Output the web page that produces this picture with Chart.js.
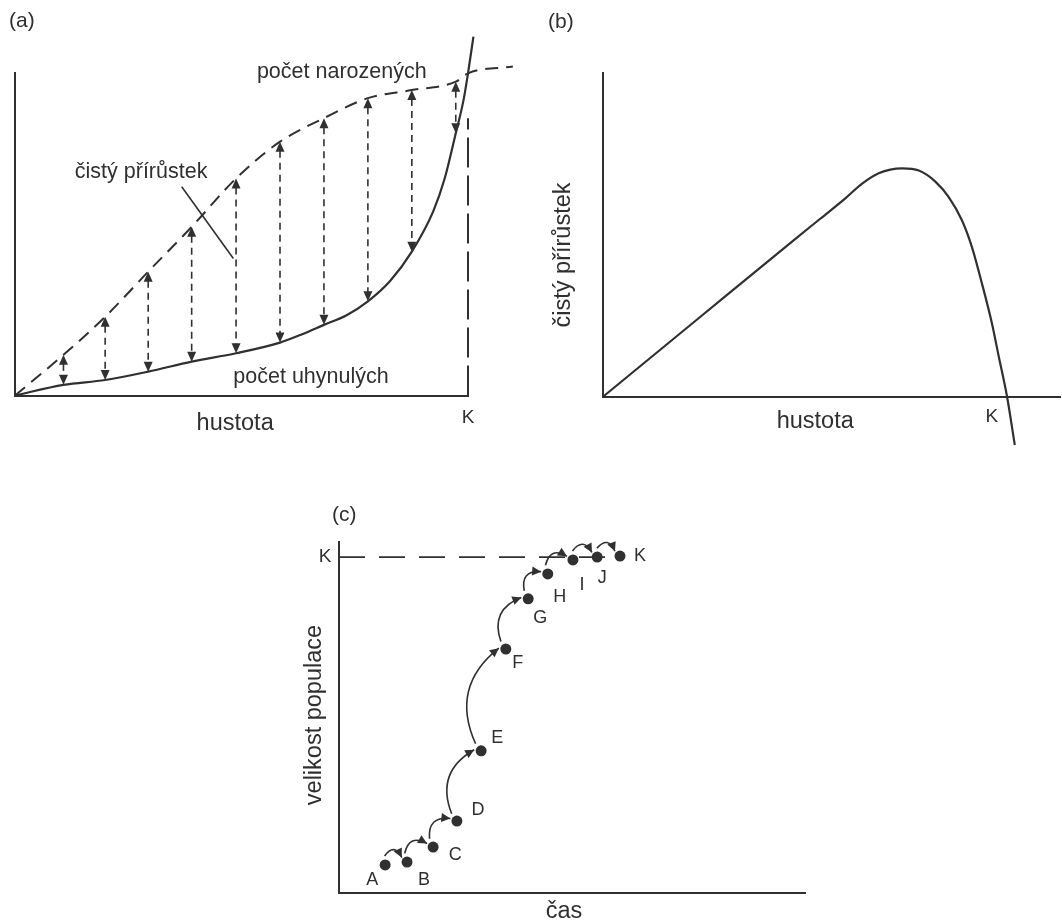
<!DOCTYPE html>
<html lang="cs">
<head>
<meta charset="utf-8">
<title>Hustota populace a čistý přírůstek</title>
<script src="https://cdn.jsdelivr.net/npm/chart.js@4.4.1/dist/chart.umd.min.js"></script>
<style>
  html, body { margin: 0; padding: 0; background: #fff; }
  body { width: 1062px; height: 924px; position: relative; overflow: hidden; }
  canvas { position: absolute; }
  #births { left: 0; top: 0; }
  #net { left: 531px; top: 0; }
  #growth { left: 280px; top: 490px; }
</style>
</head>
<body>
<canvas id="births" width="531" height="445"></canvas>
<canvas id="net" width="531" height="460"></canvas>
<canvas id="growth" width="560" height="434"></canvas>
<script>
// (a) births and deaths against density, K sits at 100
const K = 100;
const birthDensity = [0, 10.7, 19.9, 29.4, 39.0, 48.8, 58.5, 68.2, 77.9, 87.6, 97.3, 100, 109.9];
const births = [0, 12.6, 24.4, 38.4, 52.3, 67.3, 78.7, 86.0, 92.2, 94.7, 97.3, 99.9, 102.0];
const deathDensity = [0, 10.7, 19.9, 29.4, 39.0, 48.8, 58.5, 63.4, 68.2, 73.1, 77.9, 82.8, 87.6, 92.3, 94.9, 97.3, 99.0, 100, 101.2];
const deaths = [0, 3.3, 4.8, 7.4, 10.5, 13.1, 16.4, 19.0, 21.9, 24.8, 29.2, 35.5, 44.6, 57.0, 67.5, 81.3, 91.5, 99.9, 111.3];
// net increase arrows are drawn at these densities
const arrowDensity = [10.7, 19.9, 29.4, 39.0, 48.8, 58.5, 68.2, 77.9, 87.6, 97.3];
const kLineTop = 86.0;

// (b) net increase against density
const netDensity = [0, 21.2, 42.0, 47.5, 53.0, 56.6, 60.3, 65.4, 69.1, 72.7, 75.6, 78.5, 80.7, 82.9, 85.1, 86.6, 88.4, 90.1];
const netGrowth = [0, 24.6, 48.7, 55.0, 61.3, 65.8, 69.1, 70.6, 69.9, 66.5, 61.8, 54.6, 46.3, 35.0, 22.6, 12.3, 0, -15.0];

// (c) population size over time
const stepLabels = ['A', 'B', 'C', 'D', 'E', 'F', 'G', 'H', 'I', 'J', 'K'];
const time = [9.9, 14.6, 20.2, 25.3, 30.5, 35.8, 40.6, 44.8, 50.2, 55.4, 60.3];
const popSize = [8.0, 8.8, 13.1, 20.5, 40.5, 69.5, 83.8, 90.9, 94.9, 95.7, 96.0];
const capacity = 95.7;

const INK = '#303030';
const FONT = '"Liberation Sans", Arial, sans-serif';
Chart.defaults.font.family = FONT;

// range is fixed after the data limits so curves may run past the axis ends
function axis(min, max) {
    return {
        type: 'linear',
        bounds: 'data',
        afterDataLimits(scale) {
            scale.min = min;
            scale.max = max;
        },
        ticks: { display: false },
        grid: { display: false, drawTicks: false },
        border: { display: true, color: INK, width: 2 }
    };
}

function drawText(ctx, str, px, py, size, align, angle) {
    ctx.save();
    ctx.translate(px, py);
    if (angle) ctx.rotate(angle);
    ctx.font = size + 'px ' + FONT;
    ctx.fillStyle = INK;
    ctx.textAlign = align || 'center';
    ctx.textBaseline = 'middle';
    ctx.fillText(str, 0, 0);
    ctx.restore();
}

// text notes are placed in data units so they follow the scales
function notesPlugin(notes) {
    return {
        id: 'notes',
        afterDraw(chart) {
            const { ctx, scales: { x, y } } = chart;
            notes.forEach(n => {
                drawText(ctx, n.text, x.getPixelForValue(n.x), y.getPixelForValue(n.y),
                    n.size, n.align, n.angle);
            });
        }
    };
}

function arrowHead(ctx, tipX, tipY, dirX, dirY, len, half) {
    const l = Math.hypot(dirX, dirY);
    const ux = dirX / l, uy = dirY / l;
    const bx = tipX - ux * len, by = tipY - uy * len;
    ctx.beginPath();
    ctx.moveTo(tipX, tipY);
    ctx.lineTo(bx - uy * half, by + ux * half);
    ctx.lineTo(bx + uy * half, by - ux * half);
    ctx.closePath();
    ctx.fill();
}

function baseOptions(padding, xMax, yMin, yMax) {
    return {
        responsive: false,
        animation: false,
        events: [],
        layout: { padding: padding },
        elements: { line: { capBezierPoints: false } },
        plugins: { legend: { display: false }, tooltip: { enabled: false } },
        scales: { x: axis(0, xMax), y: axis(yMin, yMax) }
    };
}

// ---- (a)
const netArrows = {
    id: 'netArrows',
    afterDatasetsDraw(chart) {
        const { ctx, scales: { x, y } } = chart;
        ctx.save();
        ctx.strokeStyle = INK;
        ctx.fillStyle = INK;
        ctx.lineWidth = 1.6;
        arrowDensity.forEach(d => {
            const px = x.getPixelForValue(d);
            const top = y.getPixelForValue(births[birthDensity.indexOf(d)]);
            const bottom = y.getPixelForValue(deaths[deathDensity.indexOf(d)]);
            ctx.setLineDash([7, 5]);
            ctx.beginPath();
            ctx.moveTo(px, top + 9);
            ctx.lineTo(px, bottom - 9);
            ctx.stroke();
            ctx.setLineDash([]);
            arrowHead(ctx, px, top, 0, -1, 10, 4.5);
            arrowHead(ctx, px, bottom, 0, 1, 10, 4.5);
        });
        // leader from the label to one of the arrows
        ctx.beginPath();
        ctx.moveTo(x.getPixelForValue(36.8), y.getPixelForValue(64.7));
        ctx.lineTo(x.getPixelForValue(48.2), y.getPixelForValue(42.5));
        ctx.stroke();
        ctx.restore();
    }
};

new Chart(document.getElementById('births'), {
    type: 'line',
    data: {
        datasets: [
            {
                label: 'počet narozených',
                data: birthDensity.map((d, i) => ({ x: d, y: births[i] })),
                borderColor: INK,
                borderWidth: 2,
                borderDash: [13, 8],
                pointRadius: 0,
                cubicInterpolationMode: 'monotone',
                clip: false
            },
            {
                label: 'počet uhynulých',
                data: deathDensity.map((d, i) => ({ x: d, y: deaths[i] })),
                borderColor: INK,
                borderWidth: 2.2,
                pointRadius: 0,
                cubicInterpolationMode: 'monotone',
                clip: false
            },
            {
                label: 'K',
                data: [{ x: K, y: 0 }, { x: K, y: kLineTop }],
                borderColor: INK,
                borderWidth: 2,
                borderDash: [30, 8],
                pointRadius: 0,
                clip: false
            }
        ]
    },
    options: baseOptions({ left: 15, top: 73, right: 63, bottom: 49.5 }, 100, 0, 100),
    plugins: [netArrows, notesPlugin([
        { text: '(a)', x: -1.3, y: 116.1, size: 21, align: 'left' },
        { text: 'počet narozených', x: 53.4, y: 100.4, size: 21.5, align: 'left' },
        { text: 'počet uhynulých', x: 48.2, y: 5.8, size: 21.5, align: 'left' },
        { text: 'čistý přírůstek', x: 13.2, y: 69.4, size: 21.5, align: 'left' },
        { text: 'hustota', x: 48.6, y: -8.6, size: 23.5 },
        { text: 'K', x: 100, y: -7.0, size: 19 }
    ])]
});

// ---- (b)
new Chart(document.getElementById('net'), {
    type: 'line',
    data: {
        datasets: [{
            label: 'čistý přírůstek',
            data: netDensity.map((d, i) => ({ x: d, y: netGrowth[i] })),
            borderColor: INK,
            borderWidth: 2.2,
            pointRadius: 0,
            cubicInterpolationMode: 'monotone',
            clip: false
        }]
    },
    options: baseOptions({ left: 72.3, top: 73.3, right: 2, bottom: 63.5 }, 100, 0, 100),
    plugins: [notesPlugin([
        { text: '(b)', x: -12.1, y: 115.9, size: 21, align: 'left' },
        { text: 'čistý přírůstek', x: -8.8, y: 43.8, size: 23.5, angle: -Math.PI / 2 },
        { text: 'hustota', x: 46.4, y: -7.8, size: 23.5 },
        { text: 'K', x: 85.1, y: -6.3, size: 19 }
    ])]
});

// ---- (c)
// label offsets in pixels from each point
const labelOffsets = [[-13, 15], [17, 18], [22, 8], [21, -11], [16, -13], [12, 14], [12, 19], [12, 23], [9, 25], [5, 21], [20, 0]];

const steps = {
    id: 'steps',
    afterDatasetsDraw(chart) {
        const { ctx, scales: { x, y } } = chart;
        const px = time.map(t => x.getPixelForValue(t));
        const py = popSize.map(v => y.getPixelForValue(v));
        ctx.save();
        ctx.strokeStyle = INK;
        ctx.fillStyle = INK;
        ctx.lineWidth = 1.6;
        for (let i = 0; i < px.length - 1; i++) {
            const dx = px[i + 1] - px[i], dy = py[i + 1] - py[i];
            const len = Math.hypot(dx, dy);
            const ux = dx / len, uy = dy / len;
            // start just above the point, finish at the upper left of the next one
            const sx = uy, sy = -ux - 1;
            const sl = Math.hypot(sx, sy);
            const s = [px[i] + 9 * sx / sl, py[i] + 9 * sy / sl];
            const ex = -ux, ey = -uy - 1;
            const el = Math.hypot(ex, ey);
            const e = [px[i + 1] + 7 * ex / el, py[i + 1] + 7 * ey / el];
            const cdx = e[0] - s[0], cdy = e[1] - s[1];
            const clen = Math.hypot(cdx, cdy);
            const nx = cdy / clen, ny = -cdx / clen;
            const bulge = 6 + 0.2 * clen;
            const c1 = [s[0] + cdx / 3 + nx * bulge, s[1] + cdy / 3 + ny * bulge];
            const c2 = [s[0] + 2 * cdx / 3 + nx * bulge, s[1] + 2 * cdy / 3 + ny * bulge];
            ctx.beginPath();
            ctx.moveTo(s[0], s[1]);
            ctx.bezierCurveTo(c1[0], c1[1], c2[0], c2[1], e[0], e[1]);
            ctx.stroke();
            arrowHead(ctx, e[0], e[1], e[0] - c2[0], e[1] - c2[1], 9, 4.5);
        }
        ctx.restore();
        stepLabels.forEach((s, i) => {
            drawText(ctx, s, px[i] + labelOffsets[i][0], py[i] + labelOffsets[i][1], 18);
        });
    }
};

new Chart(document.getElementById('growth'), {
    type: 'scatter',
    data: {
        datasets: [
            {
                label: 'K',
                type: 'line',
                data: [{ x: 0, y: capacity }, { x: 59, y: capacity }],
                borderColor: INK,
                borderWidth: 1.8,
                borderDash: [26, 14],
                pointRadius: 0
            },
            {
                label: 'velikost populace',
                data: time.map((t, i) => ({ x: t, y: popSize[i] })),
                pointRadius: 5.5,
                pointBackgroundColor: INK,
                pointBorderWidth: 0,
                clip: false
            }
        ]
    },
    options: baseOptions({ left: 59, top: 52, right: 35, bottom: 31 }, 100, 0, 100),
    plugins: [steps, notesPlugin([
        { text: '(c)', x: -1.5, y: 107.7, size: 21, align: 'left' },
        { text: 'K', x: -3.0, y: capacity, size: 19 },
        { text: 'velikost populace', x: -5.2, y: 50.7, size: 23.5, angle: -Math.PI / 2 },
        { text: 'čas', x: 48.3, y: -5.4, size: 23.5 }
    ])]
});
</script>
</body>
</html>
